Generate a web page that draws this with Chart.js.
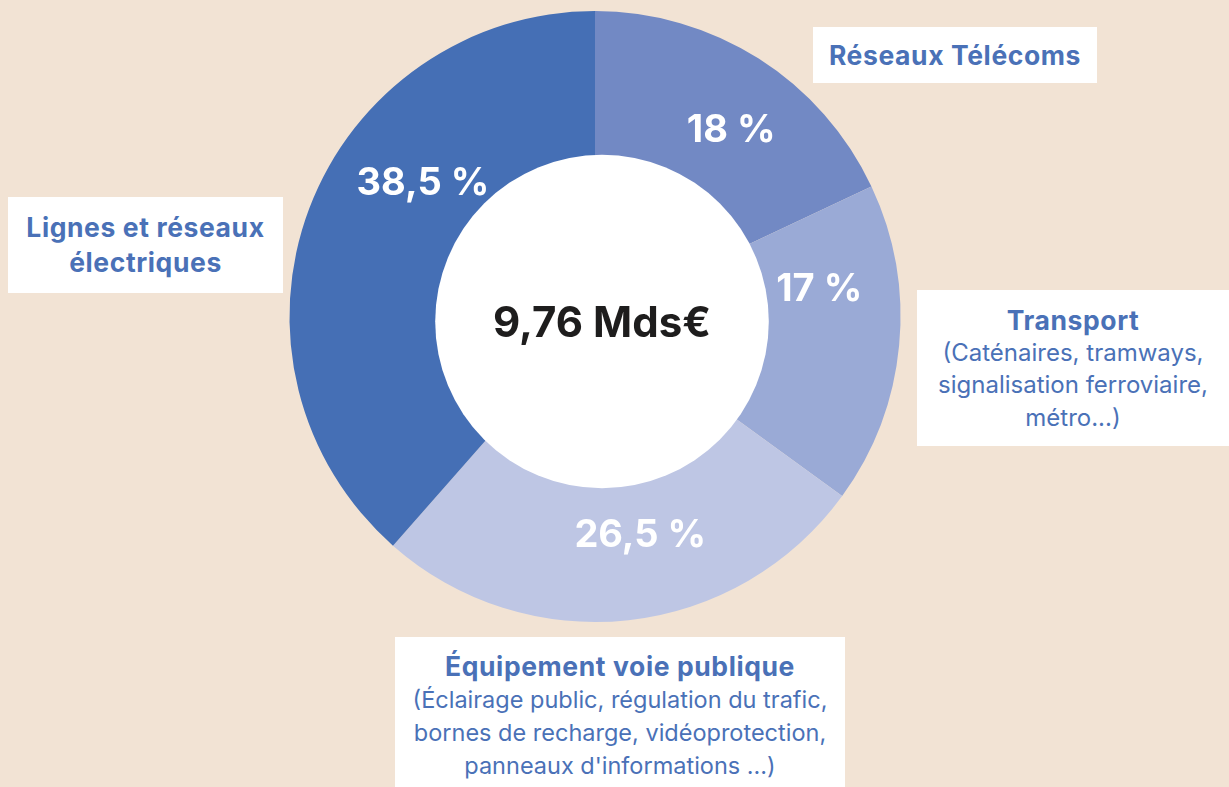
<!DOCTYPE html>
<html lang="fr">
<head>
<meta charset="utf-8">
<title>Répartition 9,76 Mds€</title>
<script src="https://cdn.jsdelivr.net/npm/chart.js@4.4.1/dist/chart.umd.min.js"></script>
<style>
  html, body {
    margin: 0;
    padding: 0;
    width: 1229px;
    height: 787px;
    overflow: hidden;
    background: #f2e3d4;
    font-family: Inter, "Open Sans", sans-serif;
  }
  #chart-wrap {
    position: absolute;
    left: 0;
    top: 0;
    width: 1229px;
    height: 787px;
  }
  .label-box {
    position: absolute;
    background: #ffffff;
    color: #4a71b7;
    text-align: center;
    box-sizing: border-box;
    white-space: nowrap;
  }
  .label-box .title {
    font-weight: 700;
    letter-spacing: 0.6px;
  }
  .label-box .detail {
    font-weight: 400;
  }
</style>
</head>
<body>
<div id="chart-wrap">
  <canvas id="donut-chart" width="1229" height="787"></canvas>
</div>

<script>
// Data
const categories = ['Réseaux Télécoms', 'Transport', 'Équipement voie publique', 'Lignes et réseaux électriques'];
const shares = [18, 17, 26.5, 38.5];
const shareLabels = ['18 %', '17 %', '26,5 %', '38,5 %'];
const categoryDetails = [
  [],
  ['(Caténaires, tramways,', 'signalisation ferroviaire,', 'métro...)'],
  ['(Éclairage public, régulation du trafic,', 'bornes de recharge, vidéoprotection,', "panneaux d'informations ...)"],
  []
];
const totalLabel = '9,76 Mds€';

// Styles
const segmentColors = ['#7289c4', '#9aaad6', '#bec6e4', '#456fb5'];

// Small angle nudges (degrees) and radius fractions for the % labels
const labelNudge = [3.5, -12.8, -5.5, 17.3];
const labelRadius = [0.76, 0.74, 0.725, 0.715];

// Boxes for the category labels
const boxStyles = [
  { left: 813, top: 27, width: 284, height: 56, padTop: 10, lineHeight: 36, titleSize: 26.5, detailSize: 24 },
  { left: 917, top: 290, width: 312, height: 156, padTop: 14, lineHeight: 32.5, titleSize: 26.5, detailSize: 24 },
  { left: 395, top: 637, width: 450, height: 150, padTop: 13, lineHeight: 33, titleSize: 26.5, detailSize: 23.5 },
  { left: 8, top: 197, width: 275, height: 96, padTop: 13, lineHeight: 35, titleSize: 26.5, detailSize: 24 }
];
// The title of the left box breaks on two lines
const titleBreaks = [null, null, null, ['Lignes et réseaux', 'électriques']];

// White centre disc, drawn slightly off the ring centre like the original
const centreDisc = {
  id: 'centreDisc',
  afterDatasetsDraw(chart) {
    const arc = chart.getDatasetMeta(0).data[0];
    if (!arc) return;
    const ctx = chart.ctx;
    const r = arc.outerRadius * 0.546;
    ctx.save();
    ctx.beginPath();
    ctx.arc(arc.x + 7, arc.y + 5, r, 0, Math.PI * 2);
    ctx.fillStyle = '#ffffff';
    ctx.fill();

    ctx.fillStyle = '#1e1d1d';
    ctx.font = '700 42px Inter, "Open Sans", sans-serif';
    ctx.textAlign = 'center';
    ctx.textBaseline = 'middle';
    ctx.fillText(totalLabel, arc.x + 7, arc.y + 8);
    ctx.restore();
  }
};

// Percentage labels inside each segment
const shareText = {
  id: 'shareText',
  afterDatasetsDraw(chart) {
    const ctx = chart.ctx;
    const arcs = chart.getDatasetMeta(0).data;
    ctx.save();
    ctx.fillStyle = '#ffffff';
    ctx.font = '700 38px Inter, "Open Sans", sans-serif';
    ctx.textAlign = 'center';
    ctx.textBaseline = 'middle';
    arcs.forEach((arc, i) => {
      const angle = (arc.startAngle + arc.endAngle) / 2 + labelNudge[i] * Math.PI / 180;
      const r = arc.outerRadius * labelRadius[i];
      ctx.fillText(shareLabels[i], arc.x + Math.cos(angle) * r, arc.y + Math.sin(angle) * r + 2);
    });
    ctx.restore();
  }
};

function renderDonut() {
  const ctx = document.getElementById('donut-chart').getContext('2d');
  new Chart(ctx, {
    type: 'doughnut',
    data: {
      labels: categories,
      datasets: [{
        data: shares,
        backgroundColor: segmentColors,
        borderWidth: 0,
        hoverOffset: 0
      }]
    },
    options: {
      responsive: false,
      animation: false,
      cutout: '51%',
      rotation: 0,
      layout: {
        padding: { left: 289, right: 328, top: 11, bottom: 165 }
      },
      plugins: {
        legend: { display: false },
        tooltip: { enabled: false }
      }
    },
    plugins: [centreDisc, shareText]
  });
}

function renderLabelBoxes() {
  const wrap = document.getElementById('chart-wrap');
  categories.forEach((name, i) => {
    const s = boxStyles[i];
    const box = document.createElement('div');
    box.className = 'label-box';
    box.style.left = s.left + 'px';
    box.style.top = s.top + 'px';
    box.style.width = s.width + 'px';
    box.style.height = s.height + 'px';
    box.style.paddingTop = s.padTop + 'px';
    box.style.lineHeight = s.lineHeight + 'px';

    const titleLines = titleBreaks[i] || [name];
    titleLines.forEach(line => {
      const el = document.createElement('div');
      el.className = 'title';
      el.style.fontSize = s.titleSize + 'px';
      el.textContent = line;
      box.appendChild(el);
    });
    categoryDetails[i].forEach(line => {
      const el = document.createElement('div');
      el.className = 'detail';
      el.style.fontSize = s.detailSize + 'px';
      el.textContent = line;
      box.appendChild(el);
    });
    wrap.appendChild(box);
  });
}

renderDonut();
renderLabelBoxes();
</script>
</body>
</html>
